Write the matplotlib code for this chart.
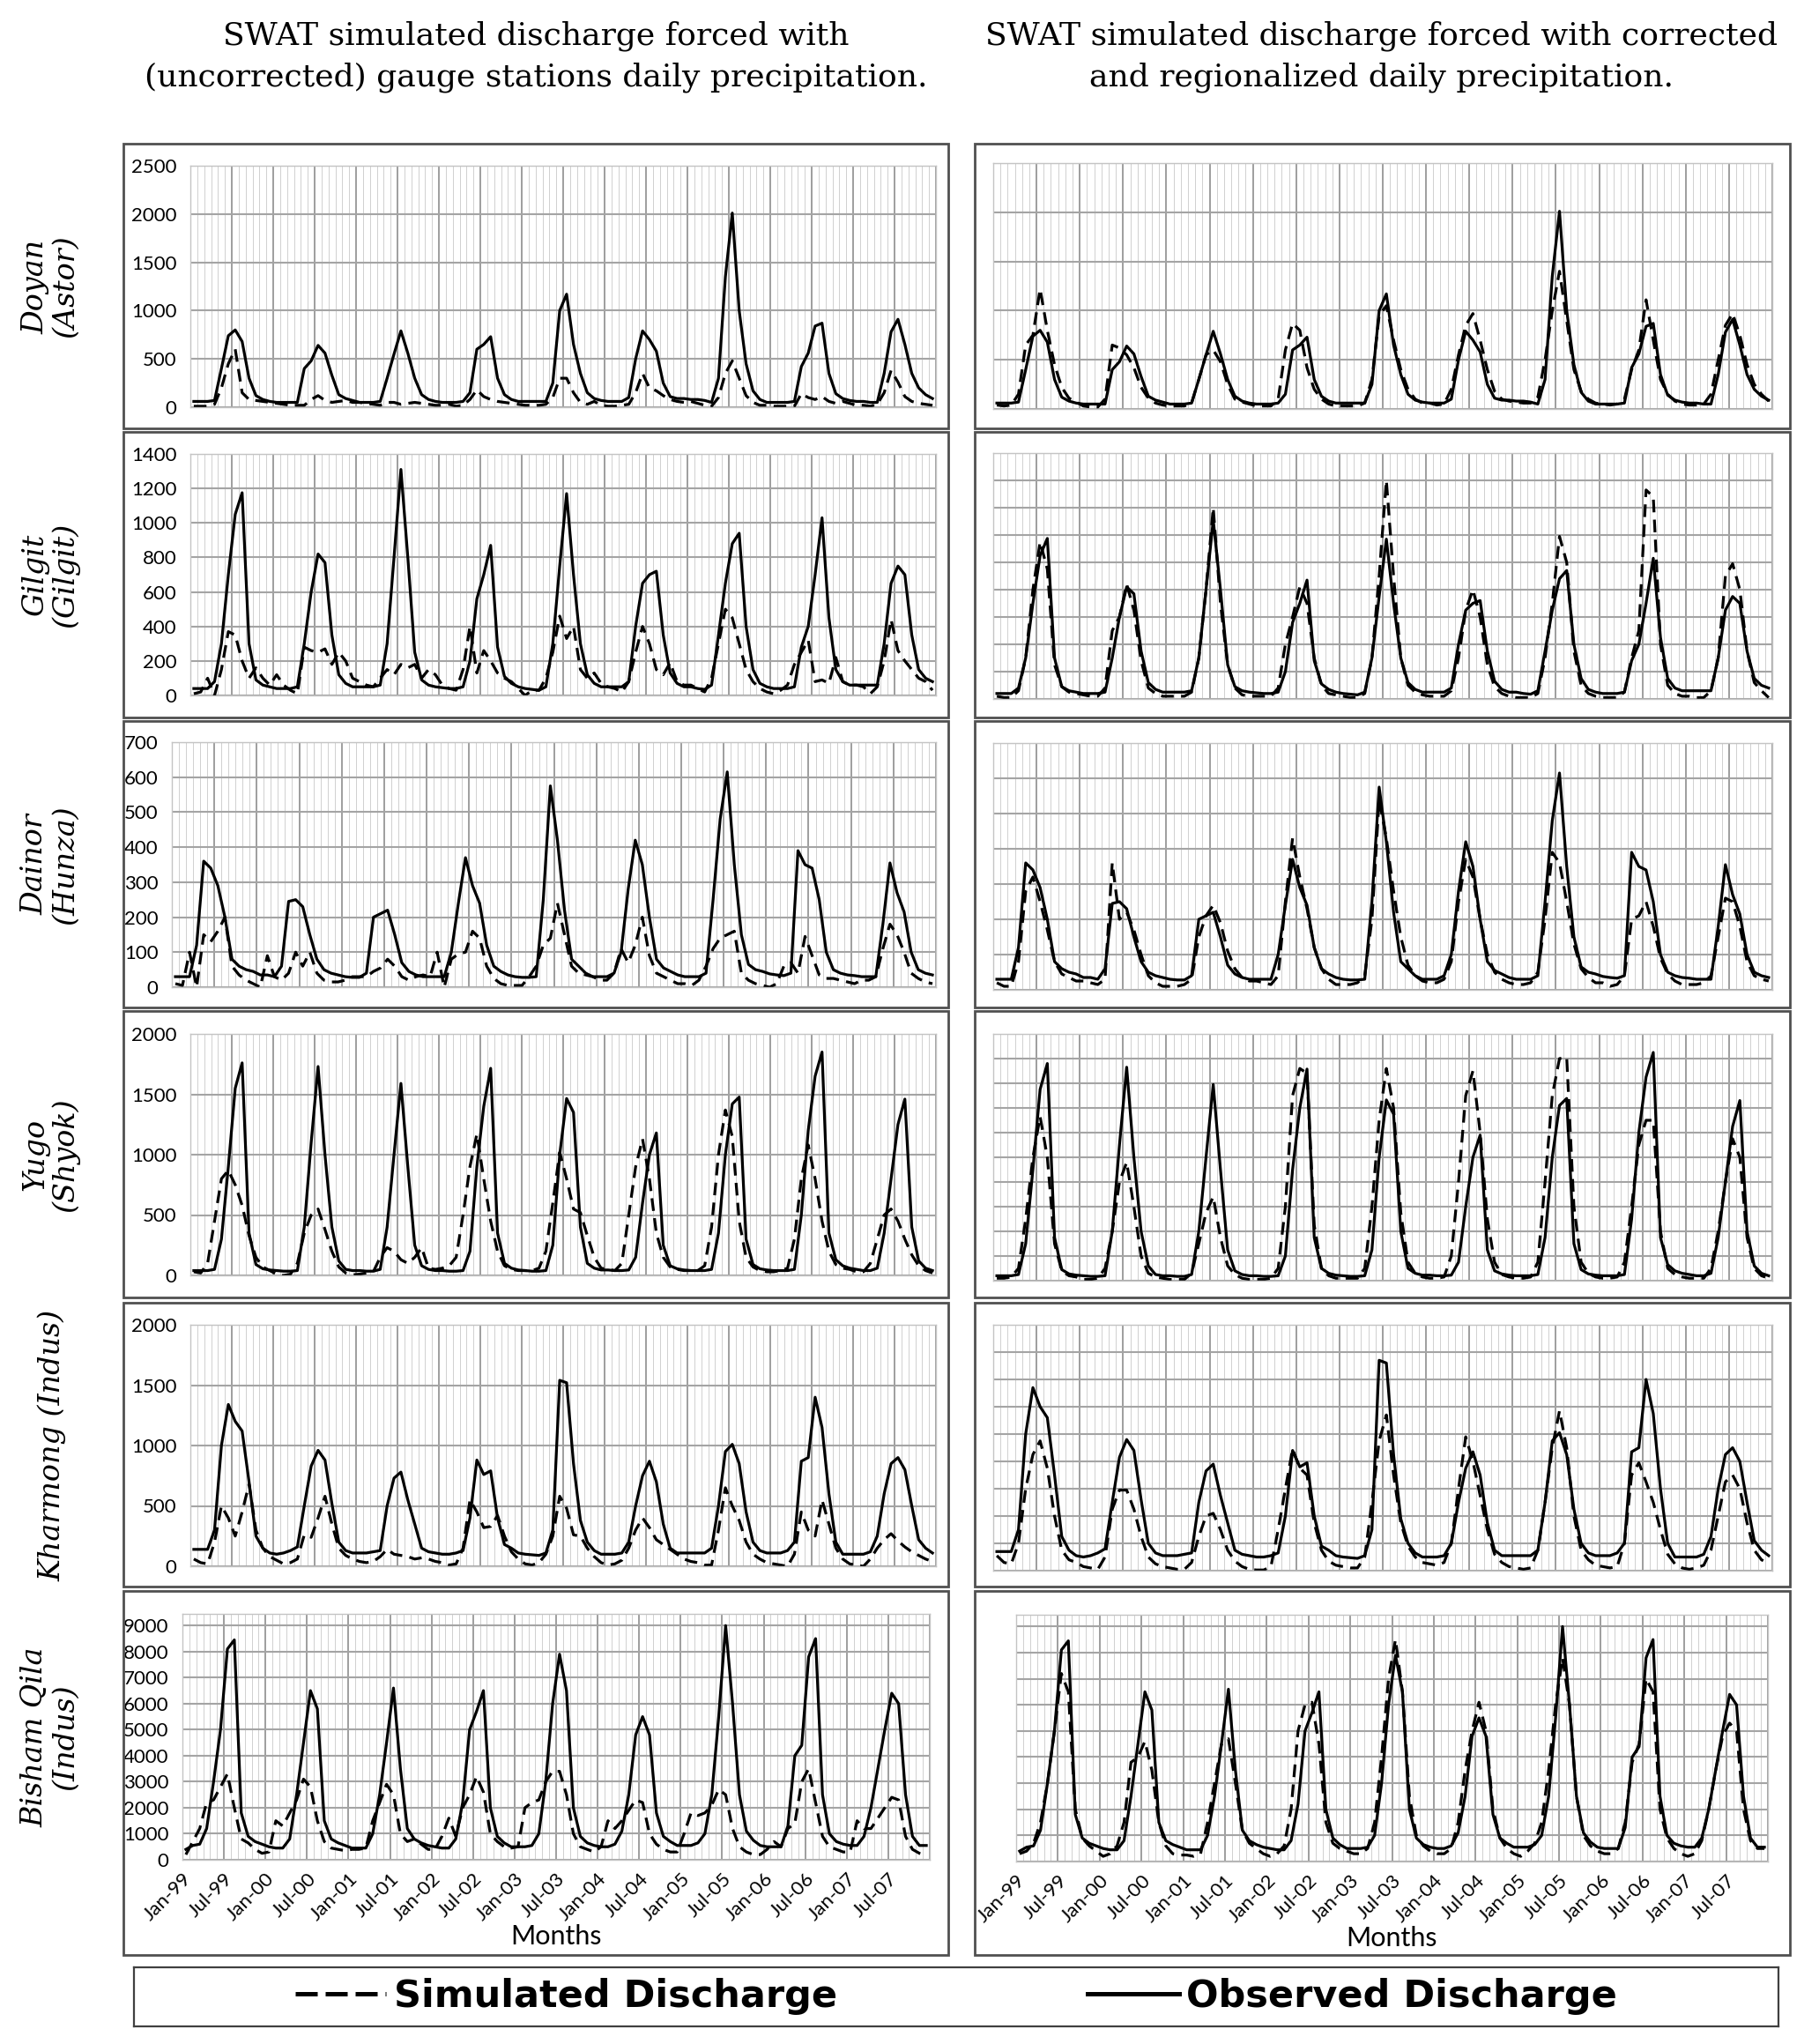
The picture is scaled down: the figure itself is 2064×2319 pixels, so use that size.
import numpy as np
import matplotlib
matplotlib.use('Agg')
import matplotlib.pyplot as plt
from matplotlib.patches import Rectangle
from matplotlib.lines import Line2D

plt.rcParams['font.family'] = ['Lato', 'DejaVu Sans']

# x axis: monthly values Jan-1999 .. Dec-2007
tick_labels = ['Jan-99', 'Jul-99', 'Jan-00', 'Jul-00', 'Jan-01', 'Jul-01',
               'Jan-02', 'Jul-02', 'Jan-03', 'Jul-03', 'Jan-04', 'Jul-04',
               'Jan-05', 'Jul-05', 'Jan-06', 'Jul-06', 'Jan-07', 'Jul-07']

stations = ['Doyan', 'Gilgit', 'Dainor', 'Yugo', 'Kharmong', 'Bisham Qila']
rivers = ['(Astor)', '(Gilgit)', '(Hunza)', '(Shyok)', '(Indus)', '(Indus)']

# ---- Doyan (Astor)
doyan_obs = [60, 60, 60, 70, 400, 740, 800, 680, 300, 120, 80, 60,
             50, 50, 50, 50, 400, 480, 640, 560, 330, 130, 90, 70,
             50, 50, 50, 60, 300, 550, 790, 560, 300, 130, 80, 60,
             50, 50, 50, 60, 150, 600, 650, 730, 300, 130, 80, 60,
             60, 60, 60, 60, 250, 1000, 1170, 650, 350, 150, 90, 70,
             60, 60, 60, 100, 500, 790, 700, 580, 250, 110, 90, 90,
             80, 80, 70, 50, 300, 1350, 2010, 1000, 450, 170, 80, 50,
             50, 50, 50, 60, 420, 560, 840, 870, 350, 140, 90, 70,
             60, 60, 50, 50, 350, 780, 910, 650, 350, 200, 130, 90]
doyan_gauge = [10, 10, 10, 30, 200, 450, 600, 150, 80, 70, 60, 50,
               40, 30, 20, 20, 20, 80, 120, 70, 50, 60, 70, 50,
               50, 40, 30, 20, 50, 50, 30, 40, 50, 40, 30, 20,
               20, 30, 10, 20, 80, 180, 110, 80, 60, 50, 40, 30,
               20, 20, 20, 30, 100, 300, 300, 150, 50, 30, 60, 20,
               10, 10, 20, 30, 150, 350, 200, 170, 120, 80, 60, 50,
               60, 40, 20, 10, 100, 350, 480, 300, 120, 50, 20, 20,
               10, 10, 10, 10, 140, 100, 80, 110, 60, 40, 60, 40,
               20, 20, 10, 30, 150, 380, 260, 110, 60, 40, 30, 20]
doyan_corr = [40, 30, 40, 150, 650, 750, 1220, 800, 450, 220, 110, 70,
              30, 20, 20, 100, 650, 620, 550, 420, 220, 110, 60, 40,
              30, 30, 30, 60, 300, 550, 600, 480, 250, 100, 70, 50,
              30, 30, 30, 100, 600, 870, 800, 420, 200, 100, 50, 30,
              30, 30, 30, 60, 300, 950, 1050, 700, 400, 200, 100, 60,
              60, 40, 50, 200, 550, 850, 970, 700, 400, 180, 100, 80,
              70, 60, 60, 120, 500, 1000, 1400, 900, 400, 180, 100, 60,
              50, 40, 50, 100, 400, 600, 1110, 700, 300, 150, 80, 50,
              40, 40, 50, 150, 500, 850, 970, 750, 450, 250, 150, 80]

# ---- Gilgit (Gilgit)
gilgit_obs = [40, 40, 40, 80, 300, 700, 1050, 1175, 300, 90, 60, 50,
              40, 40, 40, 50, 300, 600, 820, 770, 350, 120, 70, 50,
              50, 50, 50, 60, 300, 800, 1310, 800, 250, 90, 60, 50,
              45, 40, 40, 50, 200, 560, 700, 870, 280, 110, 70, 50,
              40, 35, 30, 50, 300, 750, 1170, 700, 300, 120, 70, 50,
              50, 50, 50, 80, 400, 650, 700, 720, 350, 130, 70, 50,
              50, 40, 35, 60, 350, 650, 880, 940, 400, 150, 70, 50,
              40, 40, 40, 50, 280, 400, 700, 1030, 450, 150, 80, 60,
              60, 60, 60, 60, 300, 650, 750, 700, 350, 150, 100, 80]
gilgit_gauge = [10, 20, 100, 0, 150, 370, 350, 200, 100, 160, 100, 60,
                120, 60, 30, 10, 280, 260, 250, 270, 180, 250, 200, 100,
                80, 60, 50, 100, 150, 120, 180, 160, 180, 100, 150, 120,
                60, 40, 30, 150, 400, 130, 260, 200, 130, 100, 80, 40,
                0, 30, 30, 100, 250, 460, 330, 400, 150, 100, 130, 70,
                50, 40, 20, 80, 250, 400, 300, 150, 120, 190, 80, 60,
                60, 40, 20, 100, 300, 500, 450, 300, 150, 80, 40, 20,
                10, 30, 60, 180, 250, 320, 80, 90, 70, 220, 80, 60,
                60, 50, 10, 50, 200, 440, 260, 200, 150, 100, 80, 30]
gilgit_corr = [20, 10, 10, 60, 300, 800, 1150, 950, 250, 90, 50, 40,
               30, 20, 20, 80, 500, 600, 840, 650, 280, 80, 40, 20,
               20, 20, 20, 50, 300, 800, 1400, 700, 250, 80, 30, 20,
               20, 20, 20, 80, 400, 600, 820, 700, 300, 100, 40, 30,
               20, 10, 10, 40, 300, 900, 1600, 900, 300, 100, 50, 30,
               20, 20, 20, 60, 300, 650, 800, 600, 250, 90, 40, 20,
               10, 10, 10, 40, 300, 700, 1190, 1000, 350, 100, 40, 20,
               10, 10, 10, 50, 300, 500, 1530, 1480, 400, 100, 40, 20,
               20, 10, 10, 60, 300, 900, 990, 800, 350, 120, 60, 10]

# ---- Dainor (Hunza)
dainor_obs = [30, 30, 30, 120, 360, 340, 290, 200, 80, 60, 50, 45,
              35, 35, 30, 60, 245, 250, 230, 150, 80, 50, 40, 35,
              30, 28, 28, 40, 200, 210, 220, 150, 70, 45, 35, 30,
              30, 30, 30, 100, 240, 370, 290, 240, 120, 60, 45, 35,
              30, 28, 28, 30, 250, 575, 420, 220, 80, 60, 40, 30,
              30, 30, 40, 100, 280, 420, 350, 200, 80, 55, 45, 35,
              30, 30, 30, 40, 250, 480, 615, 350, 150, 65, 50, 45,
              38, 35, 33, 40, 390, 350, 340, 250, 100, 50, 40, 35,
              33, 30, 30, 30, 180, 355, 270, 215, 100, 50, 40, 35]
dainor_gauge = [10, 5, 100, 0, 150, 130, 160, 200, 60, 35, 20, 10,
                0, 90, 30, 20, 40, 100, 60, 100, 40, 20, 15, 15,
                20, 30, 30, 30, 45, 55, 80, 60, 30, 20, 30, 35,
                30, 100, 0, 80, 95, 100, 160, 140, 60, 25, 10, 5,
                5, 5, 30, 60, 120, 140, 240, 150, 60, 40, 35, 30,
                20, 20, 40, 110, 70, 120, 200, 90, 40, 30, 20, 10,
                10, 5, 20, 60, 110, 140, 150, 160, 40, 20, 10, 5,
                0, 10, 60, 70, 40, 145, 90, 35, 25, 25, 20, 15,
                10, 20, 20, 30, 110, 180, 150, 100, 40, 25, 15, 10]
dainor_corr = [20, 10, 10, 80, 280, 320, 250, 170, 80, 45, 35, 25,
               25, 20, 15, 30, 360, 200, 220, 170, 100, 40, 20, 10,
               10, 10, 15, 30, 150, 210, 240, 190, 110, 60, 35, 25,
               25, 20, 15, 40, 250, 430, 320, 230, 120, 60, 30, 15,
               15, 15, 20, 40, 200, 540, 430, 280, 150, 70, 40, 25,
               20, 20, 30, 80, 250, 370, 320, 200, 100, 50, 30, 20,
               15, 15, 20, 50, 200, 390, 360, 250, 130, 60, 35, 20,
               20, 10, 15, 40, 200, 210, 250, 180, 90, 45, 25, 15,
               15, 15, 20, 40, 150, 260, 250, 180, 80, 40, 30, 25]

# ---- Yugo (Shyok)
yugo_obs = [40, 40, 40, 50, 300, 900, 1550, 1760, 350, 90, 55, 45,
            40, 35, 35, 40, 400, 1100, 1730, 1000, 400, 120, 50, 40,
            40, 35, 35, 50, 400, 1000, 1590, 900, 250, 80, 50, 40,
            40, 35, 35, 40, 200, 900, 1400, 1715, 350, 100, 60, 45,
            40, 35, 35, 40, 250, 1000, 1465, 1350, 400, 100, 60, 45,
            45, 40, 40, 45, 150, 600, 1000, 1180, 250, 80, 55, 45,
            40, 40, 40, 50, 350, 1000, 1420, 1477, 300, 90, 55, 45,
            40, 40, 40, 50, 500, 1200, 1650, 1850, 350, 130, 80, 60,
            50, 40, 40, 60, 350, 800, 1250, 1460, 400, 120, 60, 40]
yugo_gauge = [30, 20, 100, 450, 800, 870, 750, 580, 330, 150, 70, 40,
              10, 0, 10, 100, 350, 500, 550, 380, 200, 70, 20, 5,
              10, 20, 30, 150, 230, 200, 130, 100, 150, 230, 60, 50,
              60, 80, 150, 500, 900, 1170, 800, 450, 200, 80, 50, 40,
              40, 40, 60, 200, 600, 1020, 800, 550, 520, 330, 150, 60,
              50, 40, 100, 500, 900, 1130, 800, 350, 150, 70, 50, 40,
              40, 40, 80, 400, 1000, 1370, 1150, 450, 150, 70, 40, 30,
              30, 40, 60, 300, 800, 1080, 800, 450, 200, 90, 60, 50,
              30, 30, 100, 300, 500, 550, 450, 300, 170, 80, 40, 20]
yugo_corr = [20, 20, 30, 100, 500, 1000, 1330, 1000, 300, 80, 40, 30,
             10, 10, 20, 100, 400, 800, 960, 600, 200, 60, 30, 20,
             10, 10, 10, 60, 300, 550, 680, 350, 120, 50, 20, 10,
             10, 10, 20, 100, 600, 1500, 1720, 1680, 450, 100, 40, 20,
             20, 20, 20, 100, 600, 1300, 1720, 1400, 550, 150, 60, 30,
             20, 20, 30, 200, 800, 1500, 1700, 1200, 500, 150, 50, 30,
             20, 20, 30, 150, 800, 1500, 1800, 1810, 600, 150, 60, 30,
             20, 20, 30, 150, 600, 1100, 1300, 1300, 400, 100, 50, 30,
             20, 20, 20, 100, 400, 800, 1150, 1000, 350, 100, 40, 20]

# ---- Kharmong (Indus)
kharmong_obs = [140, 140, 140, 300, 1000, 1340, 1200, 1120, 700, 250, 150, 110,
                100, 110, 130, 160, 500, 830, 960, 880, 520, 200, 130, 110,
                110, 110, 120, 130, 500, 730, 780, 550, 350, 150, 120, 110,
                100, 100, 110, 130, 400, 880, 760, 790, 400, 180, 150, 110,
                100, 95, 90, 110, 300, 1540, 1520, 850, 380, 200, 130, 100,
                100, 100, 110, 200, 500, 750, 870, 700, 350, 150, 110, 110,
                110, 110, 110, 150, 500, 950, 1010, 850, 450, 200, 130, 110,
                110, 110, 130, 200, 870, 900, 1400, 1150, 600, 200, 100, 100,
                100, 100, 120, 250, 600, 850, 900, 800, 500, 220, 150, 110]
kharmong_gauge = [60, 30, 20, 200, 500, 400, 250, 450, 680, 300, 150, 80,
                  50, 20, 30, 60, 260, 240, 400, 580, 350, 150, 90, 60,
                  40, 30, 40, 80, 140, 100, 90, 80, 60, 70, 60, 40,
                  30, 10, 20, 150, 550, 450, 320, 330, 420, 250, 120, 60,
                  20, 10, 30, 100, 250, 580, 480, 260, 250, 150, 80, 30,
                  10, 20, 50, 150, 300, 400, 320, 220, 180, 140, 100, 60,
                  40, 30, 10, 10, 300, 650, 500, 380, 200, 100, 60, 30,
                  20, 10, 0, 100, 450, 300, 250, 550, 350, 150, 60, 20,
                  10, 0, 60, 150, 220, 270, 210, 160, 120, 90, 60, 40]
kharmong_corr = [110, 60, 50, 200, 600, 850, 950, 750, 400, 150, 80, 60,
                 30, 20, 10, 100, 450, 590, 590, 450, 250, 100, 50, 30,
                 20, 10, 10, 60, 250, 400, 420, 300, 150, 70, 30, 10,
                 5, 5, 30, 300, 600, 890, 750, 700, 350, 150, 70, 40,
                 30, 20, 20, 100, 500, 950, 1140, 700, 350, 180, 100, 60,
                 50, 40, 60, 200, 600, 980, 800, 550, 300, 120, 60, 30,
                 20, 10, 20, 150, 500, 900, 1170, 900, 400, 150, 80, 40,
                 30, 20, 30, 200, 700, 790, 650, 500, 300, 120, 50, 20,
                 10, 20, 40, 150, 400, 650, 700, 600, 350, 150, 80, 50]

# ---- Bisham Qila (Indus)
bisham_obs = [400, 550, 600, 1200, 3000, 5000, 8100, 8450, 1800, 900, 700, 600,
              500, 450, 450, 800, 2500, 4500, 6500, 5800, 1500, 800, 650, 550,
              450, 450, 450, 1000, 2500, 4500, 6600, 3500, 1200, 800, 650, 550,
              500, 450, 450, 800, 2200, 5000, 5700, 6500, 2000, 900, 650, 500,
              500, 500, 550, 1000, 3000, 6000, 7900, 6500, 2000, 900, 650, 550,
              500, 500, 600, 1100, 2500, 4800, 5500, 4800, 1800, 900, 700, 550,
              550, 550, 650, 1000, 2500, 5500, 9000, 6000, 2500, 1100, 750, 550,
              500, 500, 500, 1300, 4000, 4400, 7800, 8500, 2500, 1000, 700, 600,
              550, 550, 900, 2000, 3500, 5000, 6400, 6000, 2500, 900, 550, 550]
bisham_gauge = [200, 700, 1200, 2200, 2300, 2800, 3300, 2000, 800, 650, 400, 250,
                300, 1500, 1300, 1800, 2300, 3100, 2800, 1500, 700, 450, 400, 350,
                400, 400, 450, 1500, 2200, 2900, 2500, 1000, 700, 800, 600, 400,
                400, 900, 1600, 900, 2000, 2500, 3200, 2600, 1000, 700, 500, 450,
                500, 2000, 2200, 2300, 3000, 3400, 3400, 2500, 1000, 500, 400, 300,
                500, 1500, 1200, 1500, 1900, 2300, 2200, 1000, 600, 400, 300, 300,
                1000, 1800, 1700, 1800, 2100, 2700, 2500, 1200, 500, 300, 200, 200,
                400, 700, 500, 1200, 1400, 3000, 3500, 2200, 900, 500, 400, 300,
                300, 1500, 1200, 1200, 1600, 2000, 2400, 2300, 900, 400, 250, 150]
bisham_corr = [300, 400, 700, 1500, 3000, 5000, 7200, 6500, 2000, 900, 600, 400,
               200, 300, 600, 1500, 3800, 4000, 4600, 3500, 1500, 600, 300, 250,
               250, 200, 300, 1500, 3000, 4500, 4700, 3000, 1200, 700, 500, 300,
               200, 300, 600, 2000, 5000, 6000, 6100, 4500, 1500, 700, 500, 400,
               300, 300, 500, 1500, 4000, 7000, 8500, 6500, 2500, 1000, 600, 400,
               300, 300, 500, 1500, 3500, 5000, 6100, 5000, 2000, 900, 500, 300,
               200, 400, 700, 1500, 3500, 6000, 7800, 6000, 2500, 1000, 600, 400,
               300, 300, 500, 1500, 3800, 4500, 7000, 6500, 2000, 900, 500, 300,
               200, 300, 800, 2000, 3500, 4800, 5300, 5000, 2000, 800, 500, 500]

observed = [doyan_obs, gilgit_obs, dainor_obs, yugo_obs, kharmong_obs, bisham_obs]
sim_gauge = [doyan_gauge, gilgit_gauge, dainor_gauge, yugo_gauge, kharmong_gauge, bisham_gauge]
sim_corr = [doyan_corr, gilgit_corr, dainor_corr, yugo_corr, kharmong_corr, bisham_corr]

# axis ranges per row (left panels labelled, right panels gridded only)
left_top = [2500, 1400, 700, 2000, 2000, 9450]
left_step = [500, 200, 100, 500, 500, 1000]
right_top = [2500, 1800, 700, 2000, 1800, 9450]
right_step = [500, 200, 100, 200, 200, 1000]

# ---- layout in pixels of the 2064 x 2319 canvas
W, H = 2064, 2319
def fbox(x0, y0, x1, y1):
    return [x0 / W, 1 - y1 / H, (x1 - x0) / W, (y1 - y0) / H]

left_axes = [(216, 188, 1062, 462), (216, 515, 1062, 789), (195, 842, 1062, 1120),
             (216, 1173, 1062, 1447), (216, 1503, 1062, 1777), (207, 1831, 1055, 2110)]
right_axes = [(1127, 185, 2011, 464), (1127, 514, 2011, 793), (1127, 843, 2011, 1123),
              (1127, 1173, 2011, 1453), (1127, 1503, 2011, 1782), (1153, 1832, 2006, 2112)]
row_boxes = [(163, 486), (490, 814), (818, 1143), (1147, 1472), (1478, 1800), (1805, 2218)]

fig = plt.figure(figsize=(W / 100, H / 100), dpi=100)

months = np.arange(108) + 0.5


def style(ax, top, step, ylabels, bottom):
    ax.set_xlim(0, 108)
    ax.set_ylim(0, top)
    ax.set_xticks(np.arange(0, 109, 6))
    ax.set_xticks(np.arange(0, 109, 1), minor=True)
    ax.set_yticks(np.arange(0, top + 1, step))
    ax.grid(which='minor', axis='x', color='#d0d0d0', lw=0.7)
    ax.grid(which='major', axis='x', color='#848484', lw=1.1)
    ax.grid(which='major', axis='y', color='#a4a4a4', lw=1.5)
    ax.set_axisbelow(True)
    ax.tick_params(which='both', length=0)
    ax.tick_params(axis='y', pad=11, labelsize=16, labelleft=ylabels)
    for s in ax.spines.values():
        s.set_color('#c4c4c4')
        s.set_linewidth(1.0)
    if bottom:
        ax.set_xticklabels(tick_labels + [''], rotation=45, ha='right',
                           rotation_mode='anchor', fontsize=16)
        ax.tick_params(axis='x', pad=8)
        ax.set_xlabel('Months', fontsize=22)
        ax.xaxis.set_label_coords(0.5, -0.26)
    else:
        ax.tick_params(axis='x', labelbottom=False)


for r in range(6):
    for col in range(2):
        if col == 0:
            ax = fig.add_axes(fbox(*left_axes[r]))
            style(ax, left_top[r], left_step[r], True, r == 5)
            sim = sim_gauge[r]
        else:
            ax = fig.add_axes(fbox(*right_axes[r]))
            style(ax, right_top[r], right_step[r], False, r == 5)
            sim = sim_corr[r]
        ax.plot(months, sim, color='black', lw=2.3, dashes=(4.5, 2.6))
        ax.plot(months, observed[r], color='black', lw=2.3)

    y0, y1 = row_boxes[r]
    for x0, x1 in [(140, 1076), (1106, 2031)]:
        fig.add_artist(Rectangle((x0 / W, 1 - y1 / H), (x1 - x0) / W, (y1 - y0) / H,
                                 transform=fig.transFigure, fill=False,
                                 ec='#505050', lw=2.0))

    # row labels
    yc = 1 - (left_axes[r][1] + left_axes[r][3]) / 2 / H
    if stations[r] == 'Kharmong':
        fig.text(59 / W, yc, 'Kharmong (Indus)', rotation=90, ha='center', va='center',
                 family='DejaVu Serif', style='italic', fontsize=24)
    else:
        fig.text(40 / W, yc, stations[r], rotation=90, ha='center', va='center',
                 family='DejaVu Serif', style='italic', fontsize=24)
        fig.text(74 / W, yc, rivers[r], rotation=90, ha='center', va='center',
                 family='DejaVu Serif', style='italic', fontsize=24)

# column titles
fig.text(608 / W, 1 - 64 / H,
         'SWAT simulated discharge forced with\n(uncorrected) gauge stations daily precipitation.',
         ha='center', va='center', family='DejaVu Serif', fontsize=26, linespacing=1.45)
fig.text(1568 / W, 1 - 64 / H,
         'SWAT simulated discharge forced with corrected\nand regionalized daily precipitation.',
         ha='center', va='center', family='DejaVu Serif', fontsize=26, linespacing=1.45)

# legend box
lax = fig.add_axes(fbox(152, 2232, 2018, 2299))
lax.set_xticks([])
lax.set_yticks([])
for s in lax.spines.values():
    s.set_color('#404040')
    s.set_linewidth(1.6)
handles = [Line2D([], [], color='black', lw=3.6, dashes=(5, 1.8)),
           Line2D([], [], color='black', lw=3.6)]
lax.legend(handles, ['Simulated Discharge', 'Observed Discharge'], loc='center', ncol=2,
           frameon=False, handlelength=2.4, handletextpad=0.2, columnspacing=6.6,
           prop={'family': 'DejaVu Sans', 'weight': 'bold', 'size': 31})

fig.savefig('out.png', dpi=100)
